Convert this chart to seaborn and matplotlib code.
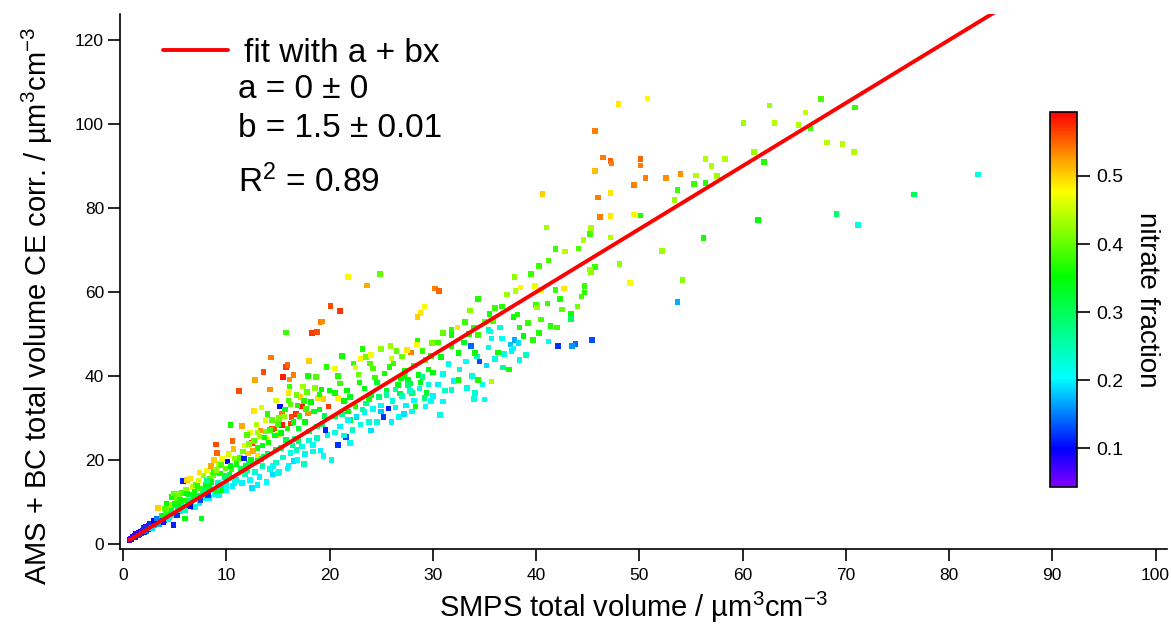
import matplotlib
matplotlib.use("Agg")
import matplotlib.pyplot as plt
import matplotlib.colors as mcolors
from matplotlib.cm import ScalarMappable
import numpy as np
import pandas as pd
import seaborn as sns

# points, grouped by SMPS volume range
# x = SMPS volume, y = AMS+BC volume, frac = nitrate fraction
origin_x = [0.6, 0.7, 0.8, 0.9, 1.0, 1.1, 1.2, 1.3, 1.4, 1.5,
            1.6, 1.7, 1.8, 1.9, 2.0, 2.1, 2.2, 2.3, 2.4, 2.5,
            2.6, 2.7, 2.8, 2.9, 3.0, 3.1, 3.2, 3.4, 3.5, 3.6,
            3.8, 3.9, 4.0, 4.2, 4.3, 4.5, 4.6, 4.8, 4.9, 1.2,
            1.5, 2.2, 2.6, 3.0, 3.3, 3.7, 4.1, 4.4, 4.7, 2.0,
            2.8, 3.5, 4.0, 4.6, 3.4, 4.4, 3.9, 4.7, 4.9, 4.2]
origin_y = [1.0, 1.3, 1.2, 1.6, 1.5, 1.9, 1.7, 2.2, 2.0, 2.6,
            2.3, 2.9, 2.6, 3.2, 2.9, 3.6, 3.1, 3.9, 3.5, 4.3,
            3.8, 4.6, 4.1, 4.9, 4.4, 5.2, 4.7, 5.6, 5.0, 6.0,
            5.4, 6.6, 5.7, 7.0, 7.7, 6.3, 7.5, 6.9, 4.5, 2.4,
            2.0, 4.0, 4.7, 5.6, 6.1, 6.8, 7.8, 8.6, 8.2, 3.8,
            3.8, 4.6, 8.4, 9.3, 8.5, 6.0, 5.2, 11.2, 12.0, 9.6]
origin_frac = [0.08, 0.06, 0.09, 0.07, 0.10, 0.08, 0.11, 0.09, 0.12, 0.08,
               0.10, 0.09, 0.13, 0.07, 0.11, 0.09, 0.14, 0.10, 0.12, 0.09,
               0.16, 0.11, 0.13, 0.10, 0.18, 0.12, 0.09, 0.14, 0.21, 0.11,
               0.24, 0.30, 0.13, 0.33, 0.10, 0.26, 0.36, 0.22, 0.11, 0.08,
               0.13, 0.07, 0.12, 0.10, 0.15, 0.34, 0.38, 0.41, 0.32, 0.12,
               0.19, 0.17, 0.39, 0.43, 0.50, 0.20, 0.08, 0.36, 0.40, 0.35]

low_x = [5.0, 5.1, 5.2, 5.3, 5.4, 5.5, 5.6, 5.7, 5.8, 5.9,
         6.0, 6.0, 6.1, 6.2, 6.3, 6.4, 6.5, 6.6, 6.7, 6.8,
         6.9, 7.0, 7.1, 7.2, 7.3, 7.4, 7.5, 7.6, 7.7, 7.8,
         7.9, 8.0, 8.1, 8.2, 8.3, 8.4, 8.5, 8.6, 8.7, 8.8,
         8.9, 9.0, 9.1, 9.1, 9.2, 9.3, 9.4, 9.5, 9.6, 9.7,
         9.8, 9.9, 10.0, 10.1, 10.2, 10.4, 10.3, 10.5, 10.6, 10.7,
         10.8, 10.9, 5.5, 6.8, 7.2, 8.0, 8.5, 9.0, 6.2, 7.9,
         9.5, 10.6, 11.2, 5.3, 6.4, 7.0, 8.3, 9.9, 10.4, 8.1,
         5.2, 6.5, 7.5, 8.2, 7.4, 8.8, 9.3, 10.0, 10.8, 6.0]
low_y = [9.5, 7.2, 10.8, 8.4, 11.5, 7.9, 9.8, 12.2, 15.0, 8.8,
         6.1, 10.4, 13.0, 15.2, 9.0, 11.8, 15.6, 10.2, 13.6, 8.7,
         12.4, 14.1, 10.6, 11.5, 15.0, 9.6, 13.2, 6.1, 12.0, 16.3,
         10.8, 14.0, 17.5, 12.4, 11.0, 15.6, 18.6, 13.0, 16.4, 17.2,
         11.8, 23.7, 21.6, 12.5, 14.6, 19.0, 16.8, 13.4, 20.2, 12.9,
         15.8, 18.0, 14.2, 19.6, 21.4, 28.3, 16.5, 17.8, 13.8, 22.6,
         20.4, 15.2, 10.5, 11.1, 13.8, 13.0, 14.8, 17.6, 12.0, 12.6,
         18.8, 24.5, 36.4, 11.9, 9.5, 8.8, 13.6, 16.2, 18.6, 15.0,
         6.8, 9.0, 10.5, 11.6, 17.0, 20.0, 11.5, 12.8, 14.5, 8.0]
low_frac = [0.36, 0.22, 0.40, 0.30, 0.44, 0.19, 0.34, 0.38, 0.11, 0.25,
            0.35, 0.37, 0.42, 0.50, 0.21, 0.33, 0.49, 0.28, 0.45, 0.17,
            0.36, 0.40, 0.24, 0.31, 0.46, 0.20, 0.38, 0.34, 0.27, 0.43,
            0.22, 0.35, 0.47, 0.26, 0.20, 0.39, 0.52, 0.30, 0.41, 0.37,
            0.21, 0.56, 0.55, 0.33, 0.24, 0.44, 0.36, 0.19, 0.48, 0.35,
            0.28, 0.40, 0.22, 0.10, 0.46, 0.36, 0.31, 0.38, 0.20, 0.51,
            0.42, 0.23, 0.36, 0.33, 0.37, 0.30, 0.34, 0.42, 0.35, 0.29,
            0.39, 0.55, 0.56, 0.41, 0.31, 0.23, 0.33, 0.30, 0.35, 0.27,
            0.12, 0.10, 0.13, 0.12, 0.49, 0.50, 0.22, 0.21, 0.20, 0.24]

mid_x = [12.8, 13.6, 14.3, 14.2, 15.8, 15.9, 15.5, 16.1, 16.5, 18.0,
         18.3, 18.8, 19.1, 19.3, 20.1, 21.0, 23.6, 21.8, 24.9, 15.8,
         14.4, 15.4, 16.7, 16.3, 16.8, 17.3, 17.9, 16.2, 15.4, 14.6,
         13.3, 12.5, 11.5, 19.9, 12.7, 13.4, 15.2, 12.3, 13.0, 12.1,
         12.6, 13.0, 14.0, 18.9, 19.4, 20.8, 20.5, 23.0, 13.8, 14.8,
         16.0, 17.2, 11.8, 15.0, 11.0, 11.3, 11.6, 11.9, 12.2, 12.4,
         12.7, 13.0, 13.2, 13.5, 13.8, 14.1, 14.4, 14.7, 15.0, 15.3,
         15.6, 15.9, 16.2, 16.5, 16.8, 17.1, 17.4, 17.7, 17.9, 18.2,
         18.7, 19.0, 19.2, 19.7, 20.0, 21.2, 21.7, 16.1, 14.0, 12.0,
         17.0, 18.5, 19.5, 13.6, 15.8, 11.4, 13.0, 14.8, 17.6, 19.0,
         11.0, 11.5, 11.8, 12.3, 12.5, 12.8, 13.2, 13.5, 13.9, 14.2,
         14.5, 14.8, 15.1, 15.5, 15.9, 16.2, 16.5, 16.8, 16.9, 17.3,
         17.6, 18.0, 18.4, 18.8, 19.1, 19.4, 19.8, 20.2, 14.5, 16.0,
         15.0, 13.0, 17.5, 18.4, 19.6, 20.8, 21.6, 11.7, 12.0, 14.0,
         16.6, 18.8, 12.2, 13.4, 15.3, 17.0, 18.0, 19.3, 20.5, 16.4,
         12.9, 14.2, 15.1, 16.0, 16.9, 17.8, 18.6, 13.7, 15.7, 17.5]
mid_y = [39.0, 41.0, 44.4, 36.8, 42.2, 42.6, 39.8, 39.2, 40.2, 43.6,
         50.3, 50.5, 52.9, 53.0, 56.7, 55.5, 61.5, 63.6, 64.3, 50.4,
         27.4, 31.1, 31.0, 30.3, 31.1, 32.7, 31.1, 28.7, 28.3, 27.5,
         27.0, 24.0, 28.1, 32.7, 31.7, 32.5, 32.7, 26.5, 26.5, 21.5,
         22.2, 21.0, 25.0, 34.7, 34.5, 34.7, 41.8, 44.0, 29.5, 34.2,
         36.0, 35.0, 23.5, 26.0, 19.0, 20.5, 22.0, 18.6, 23.8, 20.0,
         24.5, 22.8, 25.6, 23.4, 26.8, 24.2, 29.5, 25.8, 28.6, 26.4,
         30.4, 27.5, 33.2, 29.0, 35.5, 30.5, 37.5, 32.2, 40.0, 33.8,
         39.7, 35.6, 36.8, 42.1, 36.5, 44.8, 36.5, 37.5, 31.0, 26.0,
         27.5, 31.5, 30.5, 20.8, 24.8, 17.8, 19.8, 22.5, 29.0, 32.0,
         15.2, 14.5, 16.6, 15.2, 13.3, 17.2, 16.0, 18.5, 14.8, 17.8,
         16.5, 19.4, 17.2, 20.6, 18.0, 21.6, 19.8, 22.4, 20.0, 23.2,
         21.4, 24.6, 23.6, 25.2, 22.3, 21.0, 26.0, 20.0, 18.5, 18.6,
         16.8, 14.0, 19.0, 22.0, 27.1, 23.6, 25.5, 20.4, 17.5, 21.5,
         25.0, 28.0, 19.0, 20.2, 22.8, 24.5, 26.8, 28.6, 30.4, 23.4,
         28.5, 27.2, 30.0, 34.2, 33.0, 36.2, 37.2, 25.4, 32.0, 34.0]
mid_frac = [0.52, 0.56, 0.54, 0.53, 0.57, 0.55, 0.58, 0.53, 0.54, 0.50,
            0.57, 0.56, 0.54, 0.53, 0.56, 0.57, 0.52, 0.48, 0.40, 0.38,
            0.57, 0.54, 0.58, 0.56, 0.57, 0.58, 0.53, 0.57, 0.58, 0.56,
            0.53, 0.57, 0.52, 0.57, 0.49, 0.46, 0.10, 0.47, 0.43, 0.50,
            0.52, 0.49, 0.48, 0.49, 0.50, 0.48, 0.47, 0.48, 0.47, 0.46,
            0.49, 0.50, 0.46, 0.45, 0.36, 0.39, 0.41, 0.33, 0.42, 0.35,
            0.40, 0.37, 0.43, 0.34, 0.41, 0.36, 0.40, 0.33, 0.38, 0.35,
            0.42, 0.37, 0.40, 0.34, 0.41, 0.36, 0.43, 0.38, 0.36, 0.35,
            0.39, 0.37, 0.35, 0.37, 0.34, 0.36, 0.35, 0.38, 0.37, 0.39,
            0.32, 0.33, 0.30, 0.31, 0.31, 0.30, 0.33, 0.32, 0.35, 0.34,
            0.22, 0.20, 0.24, 0.21, 0.19, 0.23, 0.20, 0.25, 0.21, 0.22,
            0.19, 0.24, 0.21, 0.23, 0.20, 0.22, 0.19, 0.24, 0.21, 0.22,
            0.20, 0.23, 0.21, 0.24, 0.20, 0.21, 0.23, 0.22, 0.21, 0.20,
            0.22, 0.20, 0.24, 0.22, 0.11, 0.12, 0.13, 0.11, 0.26, 0.28,
            0.27, 0.29, 0.31, 0.30, 0.28, 0.29, 0.30, 0.28, 0.31, 0.26,
            0.44, 0.38, 0.41, 0.39, 0.36, 0.40, 0.42, 0.36, 0.33, 0.37]

upper_x = [20.5, 21.0, 21.8, 22.0, 22.5, 22.8, 23.2, 23.4, 23.8, 24.2,
           24.6, 25.0, 25.3, 25.9, 26.2, 26.6, 27.0, 27.3, 27.6, 27.9,
           28.2, 28.6, 29.0, 29.3, 29.6, 29.9, 24.0, 25.5, 26.8, 28.3,
           22.3, 20.8, 23.5, 26.5, 28.5, 22.0, 27.2, 27.8, 28.8, 29.4,
           29.8, 30.0, 28.0, 29.2, 21.4, 22.9, 24.4, 25.8, 26.9, 23.9,
           28.8, 29.2, 28.5, 30.2, 30.6, 24.0, 26.0, 22.5, 28.4, 27.5,
           20.5, 21.0, 21.4, 21.8, 22.2, 22.6, 23.0, 23.4, 23.8, 24.2,
           24.6, 25.0, 25.2, 25.7, 26.1, 26.7, 27.0, 27.4, 27.8, 28.2,
           28.7, 29.3, 29.6, 30.0, 22.0, 24.0, 26.0, 28.0, 25.5, 23.5,
           21.2, 23.2, 24.8, 26.4, 27.6, 29.0, 25.0, 26.4, 27.2, 29.8]
upper_y = [36.0, 38.2, 31.5, 35.0, 32.7, 40.4, 46.4, 37.0, 34.5, 41.8,
           38.5, 46.4, 40.6, 47.1, 43.0, 37.8, 44.6, 41.2, 39.0, 45.6,
           42.5, 40.2, 46.0, 43.8, 41.6, 47.8, 35.5, 36.5, 35.8, 32.7,
           43.0, 40.0, 44.5, 46.0, 48.5, 29.5, 40.0, 38.2, 38.5, 36.0,
           44.8, 40.8, 36.0, 34.8, 34.0, 38.5, 39.6, 42.2, 39.5, 43.0,
           55.0, 56.5, 54.0, 60.8, 60.3, 45.0, 44.2, 42.0, 47.5, 46.2,
           26.5, 28.0, 25.8, 29.5, 27.2, 30.2, 28.4, 31.4, 29.0, 32.2,
           29.1, 33.0, 30.3, 32.3, 34.0, 30.2, 35.2, 33.0, 36.4, 34.2,
           37.0, 32.7, 38.0, 35.2, 24.0, 27.0, 29.0, 31.5, 35.5, 33.5,
           30.8, 32.0, 35.0, 36.8, 37.8, 39.8, 31.5, 32.5, 31.0, 34.0]
upper_frac = [0.36, 0.38, 0.35, 0.33, 0.37, 0.40, 0.37, 0.34, 0.36, 0.39,
              0.33, 0.42, 0.36, 0.43, 0.38, 0.34, 0.40, 0.36, 0.33, 0.54,
              0.37, 0.35, 0.38, 0.39, 0.34, 0.41, 0.33, 0.32, 0.31, 0.36,
              0.38, 0.37, 0.41, 0.40, 0.37, 0.34, 0.35, 0.32, 0.34, 0.33,
              0.37, 0.35, 0.30, 0.28, 0.35, 0.36, 0.38, 0.37, 0.35, 0.39,
              0.49, 0.48, 0.50, 0.54, 0.55, 0.47, 0.45, 0.46, 0.48, 0.49,
              0.22, 0.20, 0.23, 0.21, 0.24, 0.19, 0.22, 0.20, 0.23, 0.21,
              0.22, 0.20, 0.12, 0.11, 0.22, 0.21, 0.24, 0.20, 0.23, 0.21,
              0.22, 0.21, 0.23, 0.20, 0.21, 0.19, 0.20, 0.22, 0.26, 0.27,
              0.27, 0.25, 0.28, 0.26, 0.29, 0.27, 0.18, 0.22, 0.19, 0.21]

high_x = [30.5, 31.0, 31.8, 31.8, 32.4, 33.1, 33.6, 34.4, 35.5, 36.0,
          36.7, 37.2, 37.9, 38.0, 38.5, 39.5, 39.9, 40.3, 40.5, 40.6,
          41.0, 41.2, 41.9, 42.8, 44.1, 44.6, 45.2, 45.3, 38.2, 37.8,
          39.2, 38.4, 40.0, 40.1, 41.1, 41.9, 42.3, 42.7, 44.7, 44.7,
          44.4, 45.7, 45.2, 45.3, 43.4, 43.4, 34.4, 40.3, 41.4, 42.0,
          39.7, 36.3, 31.8, 32.5, 33.0, 34.0, 35.0, 30.8, 33.5, 35.8,
          35.4, 35.6, 36.5, 35.7, 36.7, 37.5, 37.8, 37.9, 38.3, 41.2,
          42.1, 43.8, 43.5, 45.4, 33.7, 35.4, 36.9, 37.6, 31.0, 31.5,
          32.0, 32.6, 33.2, 33.8, 34.3, 34.8, 35.2, 36.0, 30.5, 31.2,
          34.0, 30.7, 31.0, 35.0, 34.1, 33.3, 34.4, 35.7, 37.4, 38.4,
          34.5, 34.1, 32.5, 31.8, 39.0, 36.8, 38.8, 40.5, 42.5, 44.0]
high_y = [48.0, 50.2, 51.0, 49.7, 51.6, 52.8, 55.6, 58.4, 54.8, 56.2,
          56.5, 59.4, 63.6, 60.3, 61.1, 64.3, 61.4, 66.2, 60.5, 83.3,
          75.4, 67.5, 70.2, 69.6, 70.4, 72.4, 73.8, 75.2, 54.6, 54.1,
          52.6, 51.6, 56.9, 56.3, 57.3, 60.5, 58.4, 60.8, 61.4, 59.9,
          58.9, 65.9, 65.4, 64.6, 54.9, 53.6, 49.7, 50.2, 51.9, 51.6,
          48.6, 45.6, 47.0, 45.5, 48.0, 51.5, 52.8, 44.5, 50.0, 53.0,
          51.0, 50.6, 51.6, 48.9, 48.9, 47.5, 46.5, 48.6, 47.8, 48.2,
          47.2, 47.6, 47.2, 48.6, 47.1, 46.8, 45.2, 46.0, 40.5, 42.8,
          38.8, 41.5, 43.5, 40.0, 44.6, 38.0, 42.5, 44.0, 38.0, 36.5,
          34.5, 30.7, 33.9, 34.4, 35.9, 37.1, 39.0, 38.7, 41.6, 43.8,
          43.4, 45.5, 39.0, 36.7, 45.0, 42.0, 49.5, 53.5, 55.8, 56.5]
high_frac = [0.38, 0.40, 0.37, 0.36, 0.49, 0.38, 0.42, 0.37, 0.36, 0.38,
             0.37, 0.43, 0.42, 0.44, 0.48, 0.38, 0.47, 0.38, 0.47, 0.50,
             0.43, 0.39, 0.38, 0.44, 0.39, 0.44, 0.38, 0.44, 0.37, 0.36,
             0.38, 0.37, 0.38, 0.43, 0.38, 0.38, 0.37, 0.49, 0.38, 0.37,
             0.39, 0.38, 0.43, 0.42, 0.36, 0.30, 0.38, 0.37, 0.37, 0.38,
             0.37, 0.36, 0.36, 0.35, 0.33, 0.37, 0.40, 0.34, 0.36, 0.39,
             0.24, 0.22, 0.22, 0.22, 0.21, 0.18, 0.21, 0.17, 0.19, 0.21,
             0.12, 0.14, 0.16, 0.13, 0.14, 0.22, 0.22, 0.20, 0.22, 0.21,
             0.20, 0.23, 0.21, 0.22, 0.24, 0.21, 0.19, 0.22, 0.20, 0.24,
             0.22, 0.22, 0.21, 0.21, 0.23, 0.22, 0.37, 0.44, 0.36, 0.22,
             0.13, 0.36, 0.36, 0.23, 0.24, 0.26, 0.35, 0.39, 0.40, 0.41]

sparse_x = [48.0, 50.8, 45.7, 46.5, 47.2, 47.3, 50.1, 50.1, 45.7, 50.6,
            49.5, 52.6, 54.0, 55.5, 56.4, 57.0, 58.3, 57.5, 55.3, 56.4,
            53.7, 53.4, 60.1, 62.6, 63.1, 65.4, 66.1, 66.6, 67.6, 70.9,
            68.2, 69.7, 70.8, 61.1, 62.1, 61.5, 69.1, 71.2, 56.2, 54.2,
            53.7, 52.2, 49.1, 48.1, 47.2, 47.2, 46.2, 46.0, 47.2, 49.5,
            50.1, 76.6, 82.8]
sparse_y = [104.8, 106.1, 98.3, 92.0, 91.2, 90.6, 91.7, 90.1, 88.8, 87.1,
            85.5, 87.1, 88.1, 87.8, 91.7, 90.0, 91.7, 87.6, 85.7, 86.0,
            84.3, 81.9, 100.2, 104.4, 100.2, 99.8, 102.8, 98.9, 105.9, 103.9,
            95.6, 95.2, 93.3, 93.4, 90.9, 77.1, 78.6, 75.9, 72.8, 62.9,
            57.6, 69.8, 62.2, 66.7, 73.0, 78.1, 77.9, 82.5, 83.6, 78.5,
            78.2, 83.2, 88.0]
sparse_frac = [0.49, 0.48, 0.54, 0.54, 0.55, 0.54, 0.55, 0.54, 0.51, 0.54,
               0.54, 0.53, 0.53, 0.44, 0.44, 0.44, 0.44, 0.43, 0.38, 0.37,
               0.38, 0.43, 0.43, 0.43, 0.44, 0.44, 0.45, 0.38, 0.39, 0.38,
               0.44, 0.44, 0.44, 0.43, 0.37, 0.35, 0.29, 0.22, 0.36, 0.42,
               0.17, 0.43, 0.48, 0.42, 0.44, 0.49, 0.54, 0.54, 0.49, 0.48,
               0.37, 0.30, 0.22]

# linear fit result shown in the legend
fit_a = 0.0
fit_b = 1.5
fit_x_end = 85.0

df = pd.DataFrame({
    "smps": origin_x + low_x + mid_x + upper_x + high_x + sparse_x,
    "ams": origin_y + low_y + mid_y + upper_y + high_y + sparse_y,
    "nitrate": origin_frac + low_frac + mid_frac + upper_frac + high_frac + sparse_frac,
})

sns.set_style("ticks")
plt.rcParams["font.family"] = ["Liberation Sans", "DejaVu Sans"]
plt.rcParams["mathtext.fontset"] = "custom"
plt.rcParams["mathtext.rm"] = "Liberation Sans"
plt.rcParams["mathtext.it"] = "Liberation Sans:italic"
plt.rcParams["axes.linewidth"] = 1.2
plt.rcParams["axes.edgecolor"] = "black"
plt.rcParams["text.color"] = "black"
plt.rcParams["axes.labelcolor"] = "black"
plt.rcParams["xtick.color"] = "black"
plt.rcParams["ytick.color"] = "black"

# Igor-style rainbow: violet -> blue -> cyan -> green -> yellow -> red
cmap = mcolors.LinearSegmentedColormap.from_list(
    "igor_rainbow",
    [(0.0, "#8000ff"), (0.10, "#0000ff"), (0.29, "#00ffff"), (0.56, "#00ff00"),
     (0.79, "#ffff00"), (0.88, "#ff9900"), (1.0, "#ff0000")])
norm = mcolors.Normalize(vmin=0.043, vmax=0.594)

fig = plt.figure(figsize=(11.71, 6.38), dpi=100)
ax = fig.add_axes([0.1025, 0.1395, 0.894, 0.8385])

sns.scatterplot(data=df, x="smps", y="ams", hue="nitrate", palette=cmap,
                hue_norm=norm, marker="s", s=16, linewidth=0, legend=False, ax=ax)

fit_x = np.array([df["smps"].min(), fit_x_end])
ax.plot(fit_x, fit_a + fit_b * fit_x, color="#ff0000", lw=2.8,
        label="fit with a + bx")

ax.set_xlim(-0.3, 101.1)
ax.set_ylim(-1.2, 126.2)
ax.set_xticks(np.arange(0, 101, 10))
ax.set_yticks(np.arange(0, 121, 20))
ax.tick_params(direction="out", length=8.5, width=1.2, labelsize=12.5)
ax.tick_params(axis="x", pad=5)
ax.tick_params(axis="y", pad=3)
sns.despine(ax=ax)

ax.set_xlabel("SMPS total volume / µm$^3$cm$^{-3}$", fontsize=21)
ax.set_ylabel("AMS + BC total volume CE corr. / µm$^3$cm$^{-3}$", fontsize=21)
ax.xaxis.set_label_coords(0.49, -0.077)
ax.yaxis.set_label_coords(-0.062, 0.455)

leg = ax.legend(loc="upper left", bbox_to_anchor=(0.028, 0.981), frameon=False,
                fontsize=24, handlelength=1.95, handletextpad=0.48, borderaxespad=0)
ax.text(0.1127, 0.843, "a = 0 ± 0", transform=ax.transAxes, fontsize=24, va="baseline")
ax.text(0.1127, 0.770, "b = 1.5 ± 0.01", transform=ax.transAxes, fontsize=24, va="baseline")
ax.text(0.1127, 0.667, "R$^2$ = 0.89", transform=ax.transAxes, fontsize=24, va="baseline")

cax = fig.add_axes([0.8967, 0.2367, 0.023, 0.5878])
cb = fig.colorbar(ScalarMappable(norm=norm, cmap=cmap), cax=cax)
cb.set_ticks([0.1, 0.2, 0.3, 0.4, 0.5])
cb.ax.tick_params(direction="out", length=9.5, width=1.2, pad=4.5, labelsize=14)
cb.outline.set_linewidth(1.2)
cb.set_label("nitrate fraction", rotation=-90, fontsize=20, labelpad=26)

fig.savefig("out.png", dpi=100)
